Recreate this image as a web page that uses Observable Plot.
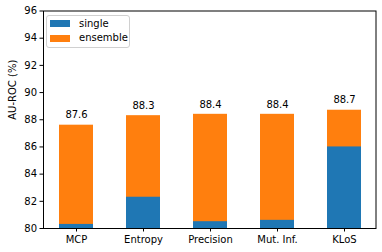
<!DOCTYPE html>
<html><head><meta charset="utf-8">
<script src="https://cdn.jsdelivr.net/npm/d3@7"></script>
<script src="https://cdn.jsdelivr.net/npm/@observablehq/plot@0.6"></script>
<style>
body{margin:0;background:#fff;}
#wrap{position:relative;width:382px;height:252px;font-family:"DejaVu Sans",sans-serif;color:#000;}
#legend{position:absolute;left:46px;top:15px;width:84px;height:33px;border:1px solid #d0d0d0;border-radius:3px;background:rgba(255,255,255,0.8);box-sizing:border-box;}
.sw{position:absolute;width:20px;height:7px;}
.lt{position:absolute;font-size:10px;line-height:12px;white-space:nowrap;}
</style>
</head><body>
<div id="wrap"></div>
<script>
const categories = ["MCP", "Entropy", "Precision", "Mut. Inf.", "KLoS"];
const singleValues = [80.3, 82.3, 80.5, 80.6, 86.0];
const ensembleValues = [87.6, 88.3, 88.4, 88.4, 88.7];
const yTicks = [80, 82, 84, 86, 88, 90, 92, 94, 96];
const seriesNames = ["single", "ensemble"];
const seriesColors = ["#1f77b4", "#ff7f0e"];
const baseValue = 80;

const singleRows = categories.map((c, i) => ({cat: c, v: singleValues[i]}));
const ensembleRows = categories.map((c, i) => ({cat: c, v: ensembleValues[i]}));

const chart = Plot.plot({
  width: 382,
  height: 252,
  marginLeft: 43,
  marginRight: 6.5,
  marginTop: 10.5,
  marginBottom: 24,
  style: {fontFamily: "DejaVu Sans, sans-serif", fontSize: "10px", color: "#000", background: "#fff"},
  x: {domain: categories, paddingInner: 0.5, paddingOuter: 0.225, label: null},
  y: {domain: [80, 96], ticks: yTicks, label: null},
  marks: [
    Plot.barY(ensembleRows, {x: "cat", y1: baseValue, y2: "v", fill: seriesColors[1]}),
    Plot.barY(singleRows, {x: "cat", y1: baseValue, y2: "v", fill: seriesColors[0]}),
    Plot.text(ensembleRows, {x: "cat", y: d => d.v + 0.5, text: d => d.v.toFixed(1), lineAnchor: "bottom", fontSize: 10, fill: "#000"}),
    Plot.axisY({ticks: yTicks, tickSize: 3.5, tickPadding: 3, tickFormat: d => String(d), label: null, fontSize: 10}),
    Plot.axisX({tickSize: 3.5, tickPadding: 3.5, label: null, fontSize: 10}),
    Plot.text(["AU-ROC (%)"], {frameAnchor: "left", dx: -31, rotate: -90, fontSize: 10, fill: "#000"}),
    Plot.frame({stroke: "#000", strokeWidth: 1})
  ]
});
const wrap = document.getElementById("wrap");
wrap.appendChild(chart);

const legend = document.createElement("div");
legend.id = "legend";
wrap.appendChild(legend);
seriesNames.forEach((name, i) => {
  const sw = document.createElement("div");
  sw.className = "sw";
  sw.style.background = seriesColors[i];
  sw.style.left = "50px";
  sw.style.top = (20 + i * 14.7) + "px";
  wrap.appendChild(sw);
  const lt = document.createElement("div");
  lt.className = "lt";
  lt.textContent = name;
  lt.style.left = "79px";
  lt.style.top = (17.5 + i * 14.7) + "px";
  wrap.appendChild(lt);
});
</script>
</body></html>
